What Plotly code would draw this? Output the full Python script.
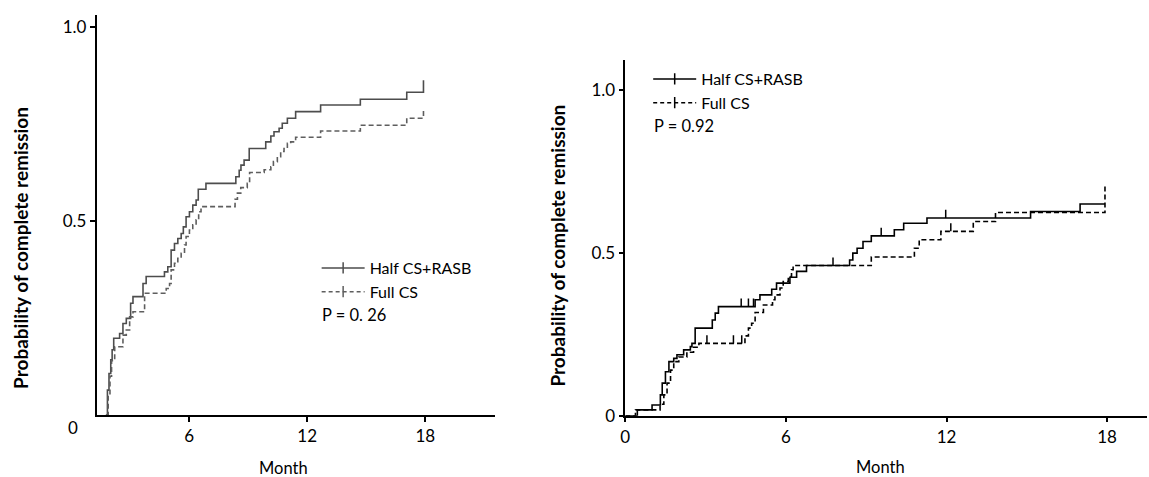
import plotly.graph_objects as go

# ---------------- data ----------------
# Left panel: cumulative probability of complete remission (month, probability)
left_half_t = [1.76, 1.84, 1.92, 2.01, 2.08, 2.16, 2.46, 2.63, 2.80, 3.02, 3.14, 3.65, 3.81, 4.74, 4.91,
               5.08, 5.25, 5.42, 5.59, 5.70, 5.84, 6.01, 6.18, 6.35, 6.46, 6.85, 8.37, 8.54, 8.63, 8.79,
               9.05, 9.89, 10.15, 10.31, 10.57, 10.73, 10.99, 11.41, 12.68, 14.70, 17.06, 17.91]
left_half_p = [0, 0.064, 0.107, 0.142, 0.168, 0.198, 0.210, 0.236, 0.249, 0.288, 0.305, 0.339, 0.357, 0.369, 0.382,
               0.425, 0.442, 0.455, 0.468, 0.485, 0.511, 0.524, 0.541, 0.554, 0.582, 0.597, 0.614, 0.631, 0.644, 0.657,
               0.687, 0.704, 0.719, 0.730, 0.739, 0.752, 0.765, 0.782, 0.799, 0.814, 0.832, 0.863]

left_full_t = [1.79, 1.88, 1.97, 2.05, 2.21, 2.63, 2.80, 2.97, 3.14, 3.73, 4.83, 5.00, 5.08, 5.25, 5.42,
               5.59, 5.76, 5.84, 6.01, 6.18, 6.35, 6.48, 6.60, 8.33, 8.45, 8.62, 8.95, 9.07, 9.81, 10.15,
               10.28, 10.48, 10.65, 10.82, 10.99, 11.16, 11.41, 12.68, 14.70, 17.06, 17.91]
left_full_p = [0, 0.05, 0.10, 0.14, 0.176, 0.206, 0.219, 0.253, 0.266, 0.314, 0.326, 0.339, 0.374, 0.391, 0.404,
               0.417, 0.438, 0.460, 0.477, 0.490, 0.503, 0.524, 0.537, 0.556, 0.572, 0.586, 0.597, 0.625, 0.632, 0.640,
               0.653, 0.666, 0.679, 0.687, 0.700, 0.704, 0.716, 0.732, 0.747, 0.765, 0.788]

# Right panel
right_half_t = [0, 0.45, 1.00, 1.31, 1.38, 1.50, 1.63, 1.81, 1.93, 2.18, 2.43, 2.49, 2.61, 3.25, 3.36,
                3.48, 4.85, 5.03, 5.47, 5.65, 6.15, 6.40, 6.77, 8.38, 8.50, 8.66, 8.88, 9.19, 10.05, 10.40,
                11.27, 15.14, 16.99, 17.92]
right_half_p = [0, 0.018, 0.033, 0.064, 0.100, 0.135, 0.166, 0.176, 0.187, 0.202, 0.212, 0.222, 0.269, 0.294, 0.315,
                0.335, 0.356, 0.371, 0.388, 0.407, 0.425, 0.443, 0.461, 0.478, 0.499, 0.514, 0.535, 0.552, 0.571, 0.591,
                0.607, 0.627, 0.650, 0.650]
right_half_cens_t = [4.33, 4.60, 4.79, 7.76, 9.56, 11.97]
right_half_cens_p = [0.335, 0.335, 0.335, 0.461, 0.552, 0.607]

right_full_t = [0, 0.38, 1.30, 1.44, 1.56, 1.69, 1.81, 2.00, 2.30, 2.55, 2.75, 4.47, 4.60, 4.72, 4.85,
                5.16, 5.50, 5.59, 5.78, 5.90, 6.09, 6.21, 6.27, 9.19, 10.80, 10.98, 11.79, 13.00, 13.83, 17.92]
right_full_p = [0, 0.018, 0.035, 0.064, 0.100, 0.140, 0.166, 0.180, 0.195, 0.210, 0.222, 0.245, 0.269, 0.284, 0.317,
                0.340, 0.356, 0.371, 0.392, 0.412, 0.427, 0.448, 0.461, 0.487, 0.514, 0.540, 0.566, 0.596, 0.624, 0.704]
right_full_cens_t = [3.05, 4.04, 4.35, 12.16]
right_full_cens_p = [0.222, 0.222, 0.222, 0.566]

series_names = ["Half CS+RASB", "Full CS"]
p_left = "P = 0. 26"
p_right = "P = 0.92"
x_ticks = [6, 12, 18]
x_ticks_right = [0, 6, 12, 18]
y_ticks_left = [0.5, 1.0]
y_ticks_right = [0, 0.5, 1.0]
y_title = "Probability of complete remission"
x_title = "Month"

# ---------------- figure ----------------
FONT = "Lato"
GRAY_S = "#4d4d4d"
GRAY_D = "#5e5e5e"
BLACK = "#000000"
W = 1149
H = 477          # reference picture height (positions below are given in these pixels)
FIG_H = 487      # height of the rendered figure


def fy(y):
    """paper fraction for a vertical position given in reference pixels from the top"""
    return 1 - y / H


fig = go.Figure()


def km(t, p, xa, ya, color, dash, width):
    return go.Scatter(x=t, y=p, mode="lines", xaxis=xa, yaxis=ya,
                      line=dict(shape="hv", color=color, dash=dash, width=width),
                      showlegend=False, hoverinfo="skip")


def censor(t, p, xa, ya, color, h):
    xs, ys = [], []
    for a, b in zip(t, p):
        xs += [a, a, None]
        ys += [b, b + h, None]
    return go.Scatter(x=xs, y=ys, mode="lines", xaxis=xa, yaxis=ya,
                      line=dict(color=color, width=1.5), showlegend=False, hoverinfo="skip")


fig.add_trace(km(left_half_t, left_half_p, "x", "y", GRAY_S, "solid", 1.6))
fig.add_trace(km(left_full_t, left_full_p, "x", "y", GRAY_D, "5px,3px", 1.6))
fig.add_trace(km(right_half_t, right_half_p, "x2", "y2", BLACK, "solid", 1.6))
fig.add_trace(km(right_full_t, right_full_p, "x2", "y2", BLACK, "5px,3px", 1.6))
fig.add_trace(censor(right_half_cens_t, right_half_cens_p, "x2", "y2", BLACK, 0.025))
fig.add_trace(censor(right_full_cens_t, right_full_cens_p, "x2", "y2", BLACK, 0.025))

# legend entries
for lg, xa, ya, col_s, col_d in [("legend", "x", "y", GRAY_S, GRAY_D), ("legend2", "x2", "y2", BLACK, BLACK)]:
    for name, col, dash in [(series_names[0], col_s, "solid"), (series_names[1], col_d, "4px,3px")]:
        fig.add_trace(go.Scatter(
            x=[None], y=[None], mode="lines+markers", name=name, xaxis=xa, yaxis=ya,
            line=dict(color=col, dash=dash, width=1.5),
            marker=dict(symbol="line-ns", size=8, color=col, line=dict(width=1.5, color=col)),
            legend=lg, showlegend=True))

axis_common = dict(showline=True, linecolor=BLACK, linewidth=1.5, ticks="outside", ticklen=5,
                   tickwidth=1.5, tickcolor=BLACK, showgrid=False, zeroline=False,
                   tickfont=dict(family=FONT, size=17, color=BLACK))

fig.update_layout(
    width=W, height=FIG_H, autosize=False,
    margin=dict(l=0, r=0, t=0, b=0),
    paper_bgcolor="white", plot_bgcolor="white",
    font=dict(family=FONT, size=16, color=BLACK),
    xaxis=dict(domain=[92 / W, 492 / W], range=[1.29, 21.54], tickvals=x_ticks, anchor="y",
               ticklabelstandoff=0, **axis_common),
    yaxis=dict(domain=[fy(415), fy(15)], range=[0, 1.031], tickvals=y_ticks_left,
               ticktext=["0.5", "1.0"], anchor="x", **axis_common),
    xaxis2=dict(domain=[623 / W, 1147 / W], range=[0, 19.49], tickvals=x_ticks_right, anchor="y2",
                ticklabelstandoff=0, **axis_common),
    yaxis2=dict(domain=[fy(415.7), fy(60)], range=[0, 1.092], tickvals=y_ticks_right,
                ticktext=["0", "0.5", "1.0"], anchor="x2", **axis_common),
    legend=dict(x=313 / W, y=fy(251), xanchor="left", yanchor="top", bgcolor="rgba(0,0,0,0)",
                font=dict(family=FONT, size=16, color=BLACK), tracegroupgap=0, itemwidth=43),
    legend2=dict(x=646 / W, y=fy(62), xanchor="left", yanchor="top", bgcolor="rgba(0,0,0,0)",
                 font=dict(family=FONT, size=16, color=BLACK), tracegroupgap=0, itemwidth=43),
    showlegend=True,
)

ann = [
    dict(text=p_left, x=316 / W, y=fy(315), xanchor="left", yanchor="middle"),
    dict(text=p_right, x=650 / W, y=fy(126), xanchor="left", yanchor="middle"),
    dict(text="0", x=68 / W, y=fy(427), xanchor="center", yanchor="middle",
         font=dict(family=FONT, size=17, color=BLACK)),
    dict(text=x_title, x=280 / W, y=fy(468), xanchor="center", yanchor="middle"),
    dict(text=x_title, x=879 / W, y=fy(467), xanchor="center", yanchor="middle"),
    dict(text="<b>" + y_title + "</b>", x=16 / W, y=fy(248), xanchor="center", yanchor="middle",
         textangle=-90, font=dict(family=FONT, size=19, color=BLACK)),
    dict(text="<b>" + y_title + "</b>", x=554 / W, y=fy(246), xanchor="center", yanchor="middle",
         textangle=-90, font=dict(family=FONT, size=19, color=BLACK)),
]
for a in ann:
    a.setdefault("font", dict(family=FONT, size=16.5, color=BLACK))
    fig.add_annotation(xref="paper", yref="paper", showarrow=False, **a)

fig.write_html(
    "out.html",
    config={"displayModeBar": False, "responsive": False},
    post_script=("document.documentElement.style.margin='0';document.body.style.margin='0';"
                 "document.documentElement.style.overflow='hidden';document.body.style.overflow='hidden';"),
)
